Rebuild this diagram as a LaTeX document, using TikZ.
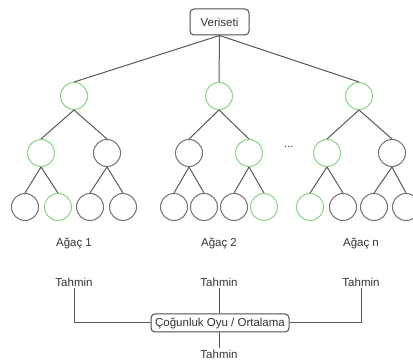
\documentclass[tikz,border=0pt]{standalone}
\usepackage{fontspec}
\setmainfont{Liberation Sans}
\begin{document}
\begin{tikzpicture}[x=1pt,y=-1pt,
  line width=1pt,
  every node/.style={font=\fontsize{11.5}{13}\selectfont, text=black!80},
  nd/.style={circle, draw=black!55, minimum size=27pt, inner sep=0pt},
  sel/.style={nd, draw=green!45!black!25!white},
  edge/.style={draw=black!65},
  lbl/.style={inner sep=1pt},
  box/.style={draw=black!70, rounded corners=4pt, inner sep=2pt}]
\useasboundingbox (0,0) rectangle (413,363);
\colorlet{sg}{green!60!black!45!white}
\tikzset{sel/.style={nd, draw=sg}}

\node[box, minimum width=59pt, minimum height=26pt] (root) at (219.5,22) {Veriseti};

% tree 1
\node[sel] (a) at (74,96) {};
\node[sel] (al) at (41,153) {};
\node[nd]  (ar) at (107,153) {};
\node[nd]  (a1) at (25,207) {};
\node[sel] (a2) at (58,207) {};
\node[nd]  (a3) at (90,207) {};
\node[nd]  (a4) at (123,207) {};

% tree 2
\node[sel] (b) at (219,96) {};
\node[nd]  (bl) at (189,153) {};
\node[sel] (br) at (249,153) {};
\node[nd]  (b1) at (174,207) {};
\node[nd]  (b2) at (204,207) {};
\node[nd]  (b3) at (234,207) {};
\node[sel] (b4) at (264,207) {};

% tree n
\node[sel] (c) at (359,96) {};
\node[sel] (cl) at (327,153) {};
\node[nd]  (cr) at (392,153) {};
\node[sel] (c1) at (310,207) {};
\node[nd]  (c2) at (343,207) {};
\node[nd]  (c3) at (374,207) {};
\node[nd]  (c4) at (406,207) {};

\node[lbl] (dots) at (289,147) {...};

\foreach \p/\q in {root/a,root/b,root/c} \draw[edge] (\p.south) -- (\q.north);
\foreach \p/\q in {a/al,a/ar,al/a1,al/a2,ar/a3,ar/a4,
                   b/bl,b/br,bl/b1,bl/b2,br/b3,br/b4,
                   c/cl,c/cr,cl/c1,cl/c2,cr/c3,cr/c4}
  \draw[edge] (\p.south) -- (\q.north);

\node[lbl] (ta) at (74,243) {Ağaç 1};
\node[lbl] (tb) at (219,243) {Ağaç 2};
\node[lbl] (tc) at (361,243) {Ağaç n};

\node[lbl] (pa) at (74,282) {Tahmin};
\node[lbl] (pb) at (219,282) {Tahmin};
\node[lbl] (pc) at (361,282) {Tahmin};

\node[box, inner sep=1.5pt, minimum width=138pt, minimum height=18pt] (vote) at (220,323) {Çoğunluk Oyu / Ortalama};
\node[lbl] (res) at (219,354) {Tahmin};

\draw[edge] (pa.south) |- (vote.west);
\draw[edge] (pc.south) |- (vote.east);
\draw[edge] (pb.south) -- (pb.south |- vote.north);
\draw[edge] (res.north |- vote.south) -- (res.north);
\end{tikzpicture}
\end{document}
